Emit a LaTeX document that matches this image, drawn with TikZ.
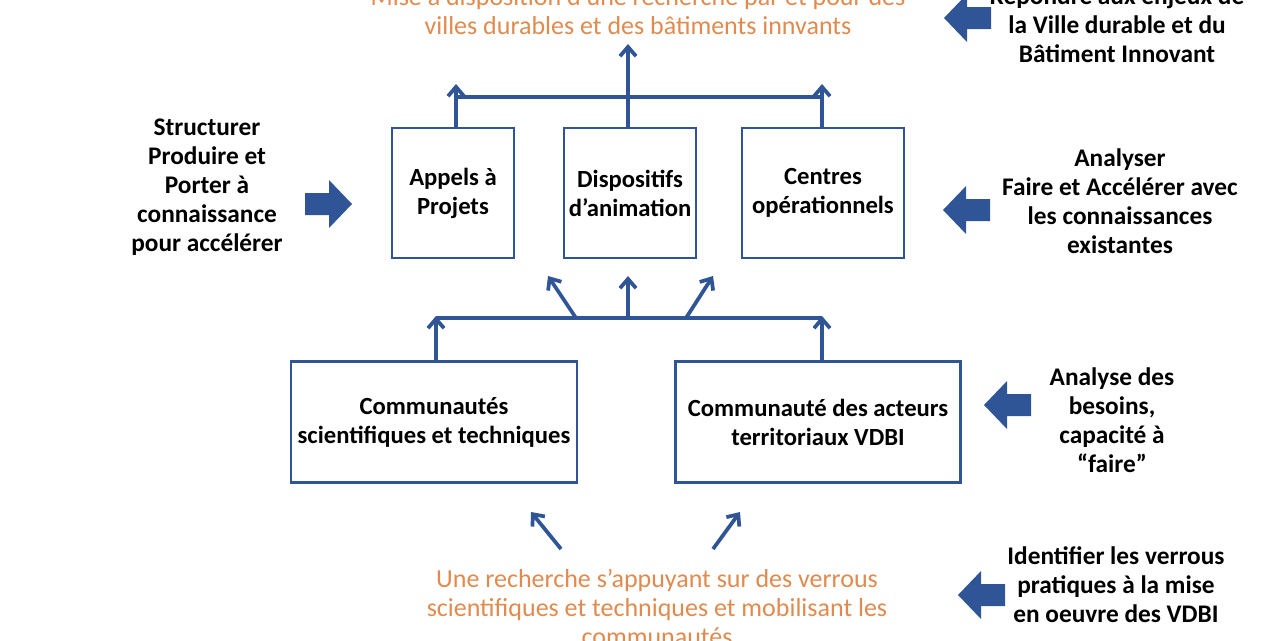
\documentclass[tikz,border=0pt]{standalone}
\usepackage{fontspec}
\setmainfont{Carlito}
\usetikzlibrary{arrows.meta}
\definecolor{bl}{HTML}{2F5597}
\definecolor{og}{HTML}{E08A4E}
\begin{document}
\begin{tikzpicture}[x=0.75pt,y=-0.75pt,
 box/.style={draw=bl,line width=2pt,align=center,font=\bfseries\fontsize{18.5}{21.75}\selectfont,inner sep=0pt},
 lab/.style={align=center,font=\bfseries\fontsize{19}{21.75}\selectfont},
 olab/.style={align=center,text=og,font=\fontsize{19.5}{21.75}\selectfont},
 ar/.style={draw=bl,line width=2.8pt,-{Straight Barb[length=7pt,width=12pt]}},
 ln/.style={draw=bl,line width=2.8pt},
 big/.pic={\fill[bl] (-24,-11) -- (0,-11) -- (0,-24) -- (23,0) -- (0,24) -- (0,11) -- (-24,11) -- cycle;}]
\useasboundingbox (0,0) rectangle (1280,640);
\node[box,minimum width=122*0.75pt,minimum height=130*0.75pt] (ap) at (453,193) {Appels à\\Projets};
\node[box,minimum width=132*0.75pt,minimum height=130*0.75pt] (di) at (630,193) {Dispositifs\\d’animation};
\node[box,minimum width=162*0.75pt,minimum height=130*0.75pt] (ce) at (823,193) {Centres\\opérationnels};
\node[box,minimum width=286*0.75pt,minimum height=121*0.75pt] (cs) at (434,422) {Communautés\\scientifiques et techniques};
\node[box,minimum width=285*0.75pt,minimum height=121*0.75pt] (ca) at (818,422) {Communauté des acteurs\\territoriaux VDBI};
\node[olab] (top) at (638,11) {Mise à disposition d’une recherche par et pour des\\villes durables et des bâtiments innvants};
\node[olab] (bot) at (657,607) {Une recherche s’appuyant sur des verrous\\scientifiques et techniques et mobilisant les\\communautés};
\node[lab] (l1) at (207,187) {Structurer\\Produire et\\Porter à\\connaissance\\pour accélérer};
\node[lab] (r0) at (1117,25) {Répondre aux enjeux de\\la Ville durable et du\\Bâtiment Innovant};
\node[lab] (r1) at (1120,201) {Analyser\\Faire et Accélérer avec\\les connaissances\\existantes};
\node[lab] (r2) at (1112,420) {Analyse des\\besoins,\\capacité à\\“faire”};
\node[lab] (r3) at (1116,585) {Identifier les verrous\\pratiques à la mise\\en oeuvre des VDBI};
\pic at (329,204) {big};
\pic[xscale=-1] at (967,18) {big};
\pic[xscale=-1] at (966,210) {big};
\pic[xscale=-1] at (1007,405) {big};
\pic[xscale=-1] at (981,595) {big};
% top connectors
\coordinate (t1) at (456,97); \coordinate (t2) at (822,97);
\draw[ln] (t1) -- (t2);
\draw[ar] (ap.north -| t1) -- (456,84);
\draw[ar] (ce.north -| t2) -- (822,84);
\draw[ar] (di.north -| 628,0) -- (628,44);
% middle connectors
\coordinate (m1) at (436,318); \coordinate (m2) at (822,318);
\draw[ln] (m1) -- (m2);
\draw[ar] (cs.north -| m1) -- (436,316);
\draw[ar] (ca.north -| m2) -- (822,316);
\coordinate (m3) at (576,318); \coordinate (m4) at (628,318); \coordinate (m5) at (686,318);
\draw[ar] (m3) -- (548,276);
\draw[ar] (m4) -- (628,276);
\draw[ar] (m5) -- (713,276);
% bottom
\coordinate (c1) at (561,549); \coordinate (c2) at (713,549);
\draw[ar] (c1) -- (531,512);
\draw[ar] (c2) -- (740,512);
\end{tikzpicture}
\end{document}
